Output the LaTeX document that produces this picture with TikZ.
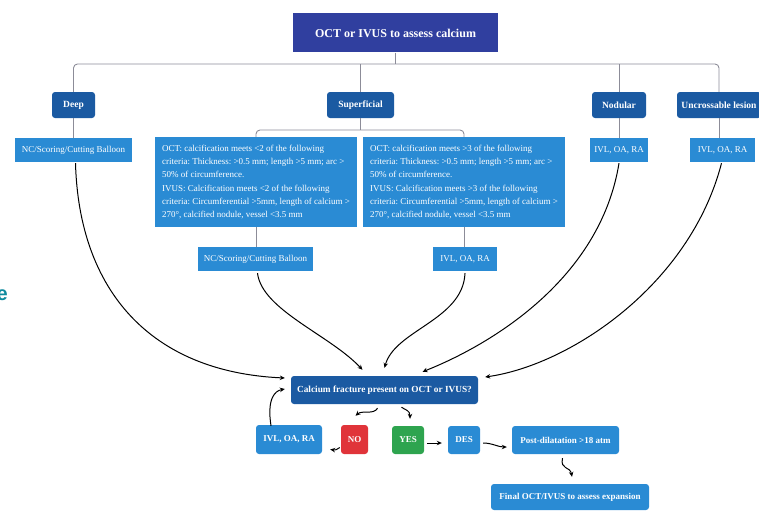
\documentclass[tikz,border=0pt]{standalone}
\usepackage{fontspec}
\setmainfont{Liberation Serif}
\setsansfont{Liberation Sans}
\usetikzlibrary{arrows.meta}
\frenchspacing
\definecolor{navy}{HTML}{303F9F}
\definecolor{dblue}{HTML}{1B5AA2}
\definecolor{lblue}{HTML}{2A8BD4}
\definecolor{nored}{HTML}{E0343A}
\definecolor{yesgreen}{HTML}{2EA44F}
\definecolor{treegray}{HTML}{8C8C98}
\definecolor{teal}{HTML}{0E8A9E}
\tikzset{
  dark/.style={fill=dblue, rounded corners=3pt, text=white, inner sep=0pt,
    font=\bfseries\fontsize{9.5}{10}\selectfont, minimum height=26pt},
  light/.style={fill=lblue, text=white, inner sep=0pt,
    font=\fontsize{9}{10}\selectfont, minimum height=24pt},
  crit/.style={fill=lblue, text=white, inner sep=0pt, align=left,
    minimum width=202pt, minimum height=90pt,
    font=\frenchspacing\fontsize{9}{13.2}\selectfont},
  lowbox/.style={rounded corners=3pt, text=white, inner sep=0pt,
    font=\bfseries\fontsize{9}{10}\selectfont, minimum height=28pt},
  tree/.style={draw=treegray, line width=0.9pt, rounded corners=4pt},
  arr/.style={-{Stealth[length=5pt,width=4.5pt]}, line width=1pt, black},
}
\begin{document}
\begin{tikzpicture}[x=1pt,y=-1pt]
\useasboundingbox (0,0) rectangle (759,511);

% top
\node[fill=navy, text=white, minimum width=205pt, minimum height=39pt, inner sep=0pt,
  font=\bfseries\fontsize{12}{13}\selectfont] (title) at (395.5,33) {OCT or IVUS to assess calcium};

\node[dark, minimum width=43pt] (deep) at (73.5,105) {Deep};
\node[dark, minimum width=67pt] (sup) at (360.5,105) {Superficial};
\node[dark, minimum width=54pt] (nod) at (619,105) {Nodular};
\node[dark, minimum width=84pt] (unc) at (719,105) {Uncrossable lesion};

\coordinate (hub) at (395.5,64);
\draw[tree] (deep.north) |- (hub) -| (unc.north);
\draw[tree] (title.south) -- (hub);
\draw[tree] (sup.north) -- (sup.north |- hub);
\draw[tree] (nod.north) -- (nod.north |- hub);

\node[light, minimum width=117pt] (nc1) at (73.5,150) {NC/Scoring/Cutting Balloon};
\node[light, minimum width=58pt] (ivln) at (619,150) {IVL, OA, RA};
\node[light, minimum width=65pt] (ivlu) at (722.5,150) {IVL, OA, RA};

\draw[tree] (deep.south) -- (nc1.north);
\draw[tree] (nod.south) -- (nod.south |- ivln.north);
\draw[tree] (unc.south) -- (unc.south |- ivlu.north);

\node[crit] (crit1) at (256,182) {OCT: calcification meets <2 of the following\\
criteria: Thickness: >0.5 mm; length >5 mm; arc >\\
50\% of circumference.\\
IVUS: Calcification meets <2 of the following\\
criteria: Circumferential >5mm, length of calcium >\\
270°, calcified nodule, vessel <3.5 mm};
\node[crit] (crit2) at (464,182) {OCT: calcification meets >3 of the following\\
criteria: Thickness: >0.5 mm; length >5 mm; arc >\\
50\% of circumference.\\
IVUS: Calcification meets >3 of the following\\
criteria: Circumferential >5mm, length of calcium >\\
270°, calcified nodule, vessel <3.5 mm};

\coordinate (shub) at (360.5,130);
\draw[tree] (crit1.north) |- (shub) -| (crit2.north);
\draw[tree] (sup.south) -- (shub);

\node[light, minimum width=115pt] (nc2) at (255.5,259) {NC/Scoring/Cutting Balloon};
\node[light, minimum width=64pt] (ivl2) at (465,259) {IVL, OA, RA};
\draw[tree] (crit1.south) -- (crit1.south |- nc2.north);
\draw[tree] (crit2.south) -- (crit2.south |- ivl2.north);

% decision
\node[dark, minimum width=187pt, minimum height=28pt,
  font=\bfseries\fontsize{9.3}{10}\selectfont] (calc) at (384.5,390) {Calcium fracture present on OCT or IVUS?};

\node[lowbox, fill=lblue, minimum width=66pt, minimum height=29pt] (ivlb) at (289,439.5) {IVL, OA, RA};
\node[lowbox, fill=nored, minimum width=27pt, minimum height=29pt] (no) at (354.5,439.5) {NO};
\node[lowbox, fill=yesgreen, minimum width=32pt] (yes) at (408,440) {YES};
\node[lowbox, fill=lblue, minimum width=32pt] (des) at (464,440) {DES};
\node[lowbox, fill=lblue, minimum width=107pt] (post) at (565.5,440) {Post-dilatation >18 atm};
\node[lowbox, fill=lblue, minimum width=158pt, minimum height=26pt] (final) at (570,497) {Final OCT/IVUS to assess expansion};

% long arrows
\draw[arr] ([xshift=2pt,yshift=-1pt]nc1.south) .. controls (79,290) and (150,372) .. ([xshift=-6pt,yshift=12pt]calc.west);
\draw[arr] ([xshift=2pt,yshift=-2pt]nc2.south) .. controls (262,310) and (330,335) .. ([xshift=-22pt,yshift=6pt]calc.north);
\draw[arr] ([yshift=-2pt]ivl2.south) .. controls (463,320) and (395,330) .. ([yshift=8pt]calc.north);
\draw[arr] ([yshift=-1pt]ivln.south) .. controls (600,280) and (490,345) .. ([xshift=38pt,yshift=4pt]calc.north);
\draw[arr] ([xshift=-1pt,yshift=-1pt]ivlu.south) .. controls (690,285) and (570,365) .. ([xshift=7pt,yshift=13pt]calc.east);

% small arrows
\draw[arr] ([xshift=-18pt,yshift=-1pt]ivlb.north) .. controls (267,400) and (274,391) .. ([xshift=-6pt,yshift=1pt]calc.west);
\draw[arr] ([xshift=-7pt,yshift=-4pt]calc.south) .. controls (374,415) and (362,410) .. ([xshift=1pt,yshift=9pt]no.north);
\draw[arr] ([xshift=17pt,yshift=-3pt]calc.south) .. controls (405,410) and (410,410) .. ([xshift=2pt,yshift=7pt]yes.north);
\draw[arr] ([xshift=-1pt,yshift=-8pt]no.west) .. controls (338,450) and (334,450) .. ([xshift=8pt,yshift=-10pt]ivlb.east);
\draw[arr] ([xshift=3pt,yshift=-3pt]yes.east) -- ([xshift=-6pt,yshift=-3pt]des.west);
\draw[arr] ([xshift=3pt,yshift=-3pt]des.east) .. controls (492,443) and (498,447) .. ([xshift=-5pt,yshift=-7pt]post.west);
\draw[arr] ([xshift=-3pt,yshift=-4pt]post.south) .. controls (560,470) and (570,466) .. ([xshift=2pt,yshift=7pt]final.north);

% cropped fragment at left edge
\node[anchor=base east, inner sep=0pt, text=teal, font=\sffamily\bfseries\fontsize{20}{20}\selectfont] (frag) at (8,300) {e};
\end{tikzpicture}
\end{document}
